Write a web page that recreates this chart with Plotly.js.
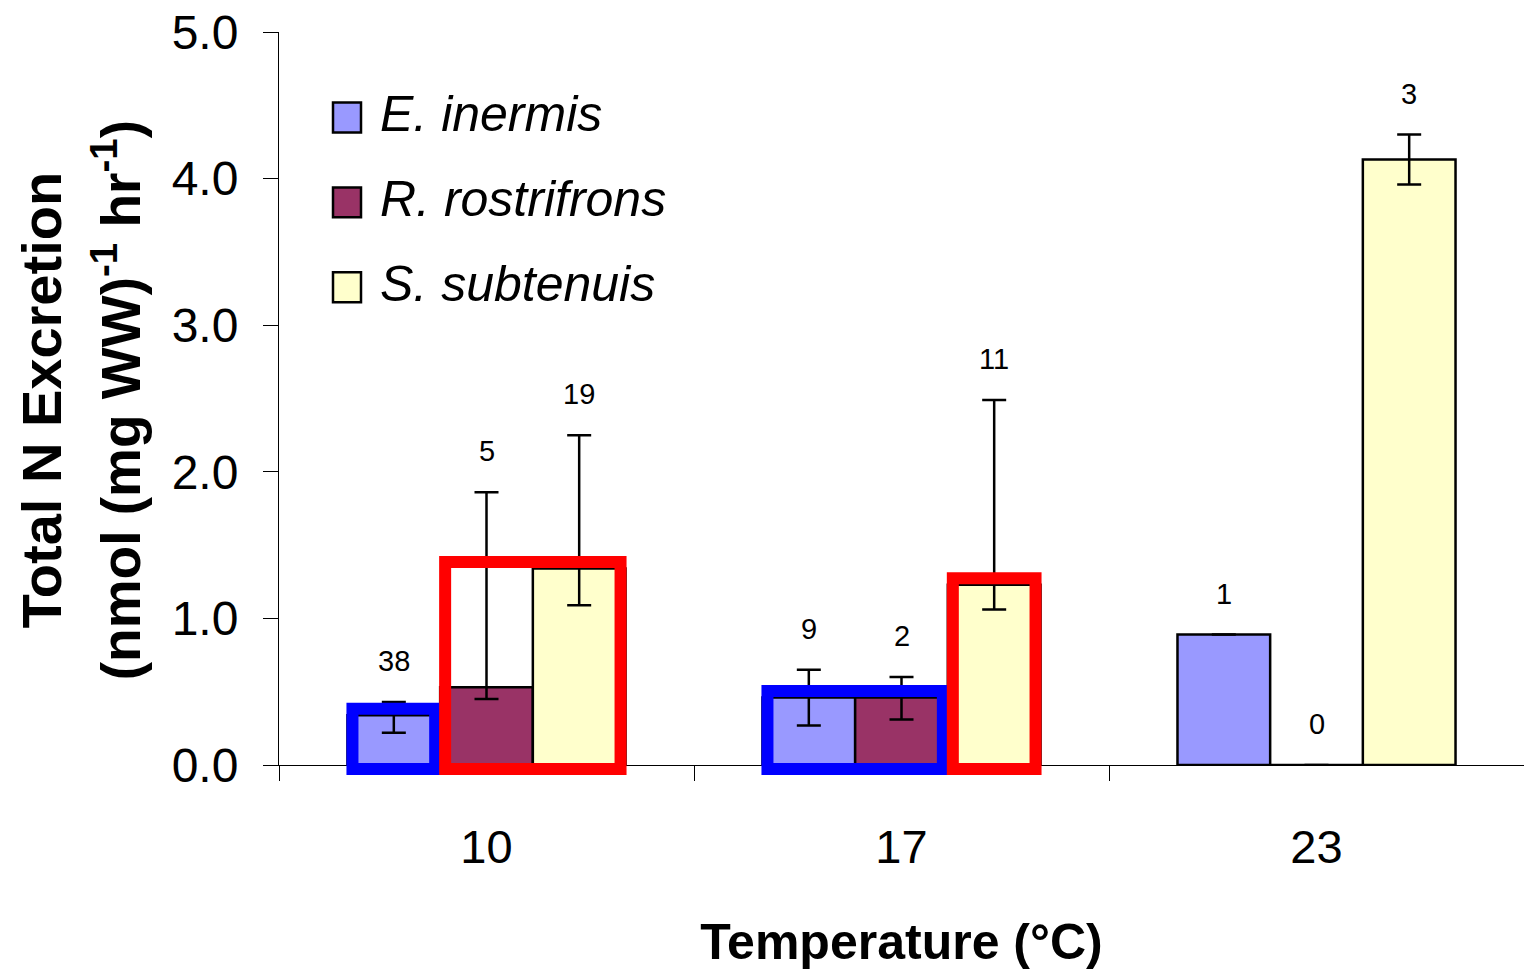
<!DOCTYPE html>
<html>
<head>
<meta charset="utf-8">
<script src="https://cdn.plot.ly/plotly-3.0.1.min.js"></script>
<style>
  html, body { margin: 0; padding: 0; background: #fff; }
  #chart { width: 1524px; height: 974px; }
</style>
</head>
<body>
<div id="chart"></div>
<script>
// Total N excretion by temperature for three species
const temperatures = ['10', '17', '23'];
const speciesNames = ['E. inermis', 'R. rostrifrons', 'S. subtenuis'];
const speciesColors = ['#9999FF', '#993366', '#FFFFCC'];

// means, upper and lower error extents
const eInermis      = [0.34, 0.46, 0.89];
const eInermisPlus  = [0.09, 0.19, 0.0];
const eInermisMinus = [0.12, 0.19, 0.0];

const rRostrifrons      = [0.53, 0.46, 0];
const rRostrifronsPlus  = [1.33, 0.14, null];
const rRostrifronsMinus = [0.08, 0.15, null];

const sSubtenuis      = [1.34, 1.23, 4.13];
const sSubtenuisPlus  = [0.91, 1.26, 0.17];
const sSubtenuisMinus = [0.25, 0.17, 0.17];

// sample sizes printed above each bar
const nEInermis     = [38, 9, 1];
const nRRostrifrons = [5, 2, 0];
const nSSubtenuis   = [19, 11, 3];

// highlighted groups: [temperature index, first bar, last bar, colour]
const highlightGroups = [
  [0, 0, 0, '#0000FF'],
  [0, 1, 2, '#FF0000'],
  [1, 0, 1, '#0000FF'],
  [1, 2, 2, '#FF0000']
];

const means = [eInermis, rRostrifrons, sSubtenuis];
const plus = [eInermisPlus, rRostrifronsPlus, sSubtenuisPlus];
const minus = [eInermisMinus, rRostrifronsMinus, sSubtenuisMinus];
const counts = [nEInermis, nRRostrifrons, nSSubtenuis];

// plot area geometry (pixels)
const M = { l: 279, r: 0, t: 31.5, b: 209 };
const W = 1524 - M.l - M.r;
const H = 974 - M.t - M.b;
const X_RANGE = [-0.5, temperatures.length - 0.5];
const Y_RANGE = [0, 5];
const BARGAP = 0.33;
const slot = (1 - BARGAP) / speciesNames.length;
const px2x = px => (px - M.l) / W;
const px2y = py => (974 - M.b - py) / H;
// axis value -> paper fraction (so highlight boxes may spill past the axes unclipped)
const v2x = v => (v - X_RANGE[0]) / (X_RANGE[1] - X_RANGE[0]);
const v2y = v => (v - Y_RANGE[0]) / (Y_RANGE[1] - Y_RANGE[0]);

const FONT = 'Arial, "Liberation Sans", sans-serif';

const traces = speciesNames.map((name, i) => ({
  type: 'bar',
  name: name,
  x: temperatures,
  y: means[i],
  marker: { color: speciesColors[i], line: { color: '#000', width: 2.5 } },
  error_y: {
    type: 'data', symmetric: false,
    array: plus[i], arrayminus: minus[i],
    color: '#000', thickness: 2.5, width: 12
  },
  showlegend: false,
  hoverinfo: 'skip'
}));

const annotations = [];
const shapes = [];

// n labels above each bar's error bar
speciesNames.forEach((name, i) => {
  temperatures.forEach((t, j) => {
    const top = means[i][j] + (plus[i][j] || 0);
    annotations.push({
      x: j + (i - 1) * slot, xref: 'x',
      y: top, yref: 'y', yanchor: 'bottom', yshift: 23,
      text: String(counts[i][j]), showarrow: false,
      font: { family: FONT, size: 29, color: '#000' }
    });
  });
});

// highlight boxes around selected bars
highlightGroups.forEach(([g, b0, b1, col]) => {
  let maxVal = 0;
  for (let k = b0; k <= b1; k++) maxVal = Math.max(maxVal, means[k][g]);
  const inset = 0.012;
  const mid = (speciesNames.length - 1) / 2;
  shapes.push({
    type: 'rect', xref: 'paper', yref: 'paper', layer: 'above',
    x0: v2x(g + (b0 - mid) * slot - slot / 2 + inset),
    x1: v2x(g + (b1 - mid) * slot + slot / 2 - inset),
    y0: v2y(-0.027), y1: v2y(maxVal + 0.044),
    line: { color: col, width: 12 }, fillcolor: 'rgba(0,0,0,0)'
  });
});

// legend: swatch + italic species name
speciesNames.forEach((name, i) => {
  const cy = 117 + i * 85;
  shapes.push({
    type: 'rect', xref: 'paper', yref: 'paper',
    x0: px2x(333), x1: px2x(361), y0: px2y(cy - 15), y1: px2y(cy + 15),
    fillcolor: speciesColors[i], line: { color: '#000', width: 2.5 }
  });
  annotations.push({
    xref: 'paper', yref: 'paper', x: px2x(378), y: px2y(cy - 3),
    xanchor: 'left', yanchor: 'middle', showarrow: false,
    text: '<i>' + name + '</i>',
    font: { family: FONT, size: 50, color: '#000' }
  });
});

// two-line y-axis title
annotations.push({
  xref: 'paper', yref: 'paper', x: px2x(41), y: px2y(400),
  xanchor: 'center', yanchor: 'middle', textangle: -90, showarrow: false,
  text: '<b>Total N Excretion</b>',
  font: { family: FONT, size: 56, color: '#000' }
});
annotations.push({
  xref: 'paper', yref: 'paper', x: px2x(117), y: px2y(400),
  xanchor: 'center', yanchor: 'middle', textangle: -90, showarrow: false,
  text: '<b>(nmol (mg WW)<sup>-1</sup> hr<sup>-1</sup>)</b>',
  font: { family: FONT, size: 55, color: '#000' }
});

const layout = {
  width: 1524, height: 974,
  margin: M,
  paper_bgcolor: '#fff', plot_bgcolor: '#fff',
  barmode: 'group', bargap: BARGAP, bargroupgap: 0,
  showlegend: false,
  font: { family: FONT, color: '#000' },
  xaxis: {
    type: 'category', range: X_RANGE,
    showline: true, linecolor: '#000', linewidth: 1,
    ticks: 'outside', tickson: 'boundaries', ticklen: 15, tickcolor: '#000', tickwidth: 1,
    tickfont: { family: FONT, size: 47, color: '#000' },
    ticklabelstandoff: 41,
    showgrid: false, zeroline: false,
    title: { text: '<b>Temperature (°C)</b>', font: { family: FONT, size: 50, color: '#000' }, standoff: 51 }
  },
  yaxis: {
    range: Y_RANGE, dtick: 1, tickformat: '.1f',
    showline: true, linecolor: '#000', linewidth: 1,
    ticks: 'outside', ticklen: 15, tickcolor: '#000', tickwidth: 1,
    tickfont: { family: FONT, size: 48, color: '#000' },
    ticklabelstandoff: 15,
    showgrid: false, zeroline: false
  },
  annotations: annotations,
  shapes: shapes
};

Plotly.newPlot('chart', traces, layout, { staticPlot: true });
</script>
</body>
</html>
